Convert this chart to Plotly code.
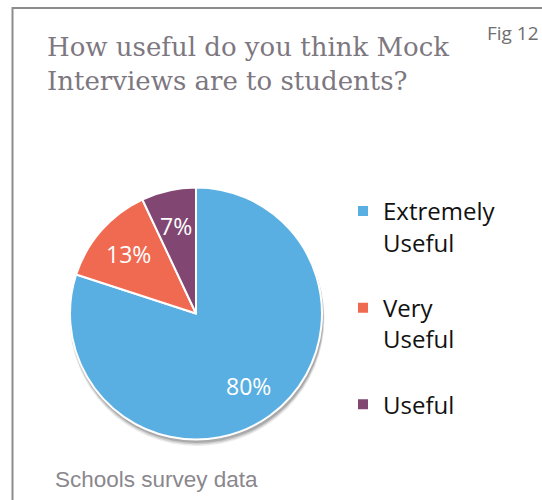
import math
import plotly.graph_objects as go

# Survey responses (percent of schools)
categories = ["Extremely Useful", "Very Useful", "Useful"]
shares = [80, 13, 7]
colors = ["#5AAFE2", "#F06A52", "#824673"]

title_lines = ["How useful do you think Mock", "Interviews are to students?"]
fig_label = "Fig 12"
source_note = "Schools survey data"

W, H = 542, 500

# pie placement in pixels -> paper fractions
cx, cy, r = 196, 313.5, 126
dom_x = [(cx - r) / W, (cx + r) / W]
dom_y = [(H - cy - r) / H, (H - cy + r) / H]

# legend text: two-word labels wrap, spacer line between entries
legend_labels = []
for i, c in enumerate(categories):
    txt = "<br>".join(c.split(" "))
    if i < len(categories) - 1:
        txt += "<br> "
    legend_labels.append(txt)

fig = go.Figure()

# soft drop shadow under the pie
for dy, grow, op in [(5, 1.5, 0.10), (4, 1.0, 0.16), (3, 0.5, 0.22)]:
    fig.add_shape(
        type="circle", xref="paper", yref="paper", layer="below",
        x0=(cx - r - grow + 1) / W, x1=(cx + r + grow + 1) / W,
        y0=(H - cy - r - grow - dy) / H, y1=(H - cy + r + grow - dy) / H,
        fillcolor=f"rgba(50,50,50,{op})", line_width=0,
    )

fig.add_trace(go.Pie(
    labels=legend_labels,
    values=shares,
    marker=dict(colors=colors, line=dict(color="white", width=2)),
    sort=False,
    direction="clockwise",
    rotation=0,
    textinfo="none",
    hoverinfo="skip",
    domain=dict(x=dom_x, y=dom_y),
))

# percentage labels at the angular middle of each slice
total = sum(shares)
label_frac = 0.71
cum = 0
for v in shares:
    mid = 2 * math.pi * (cum + v / 2) / total  # clockwise from 12 o'clock
    cum += v
    px = cx + label_frac * r * math.sin(mid)
    py = cy - label_frac * r * math.cos(mid)
    fig.add_annotation(
        text=f"{round(100 * v / total)}%", xref="paper", yref="paper",
        x=px / W, y=1 - py / H, xanchor="center", yanchor="middle",
        showarrow=False,
        font=dict(family="Open Sans", size=23, color="white"),
    )

# outer frame
fig.add_shape(type="rect", xref="paper", yref="paper",
              x0=12.5 / W, x1=1.05, y0=-0.05, y1=1 - 8 / H,
              line=dict(color="#8C8C8C", width=2), fillcolor="rgba(0,0,0,0)")

fig.add_annotation(
    text="<br>".join(title_lines), xref="paper", yref="paper",
    x=45 / W, y=1 - 30 / H, xanchor="left", yanchor="top", align="left",
    showarrow=False,
    font=dict(family="DejaVu Serif", size=26, color="#7D777F"),
)
fig.add_annotation(
    text=fig_label, xref="paper", yref="paper",
    x=541 / W, y=1 - 33 / H, xanchor="right", yanchor="middle",
    showarrow=False,
    font=dict(family="Open Sans", size=19, color="#6F6F6F"),
)
fig.add_annotation(
    text=source_note, xref="paper", yref="paper",
    x=53 / W, y=1 - 479 / H, xanchor="left", yanchor="middle",
    showarrow=False,
    font=dict(family="Liberation Sans", size=22.5, color="#8A878D"),
)

fig.update_layout(
    width=W, height=H,
    margin=dict(l=0, r=0, t=0, b=0),
    paper_bgcolor="white", plot_bgcolor="white",
    showlegend=True,
    legend=dict(
        x=343 / W, y=1 - 189 / H, xanchor="left", yanchor="top",
        valign="top", font=dict(family="Open Sans", size=24, color="#111111"),
        bgcolor="rgba(0,0,0,0)", itemclick=False,
    ),
)

fig.write_html("out.html")
